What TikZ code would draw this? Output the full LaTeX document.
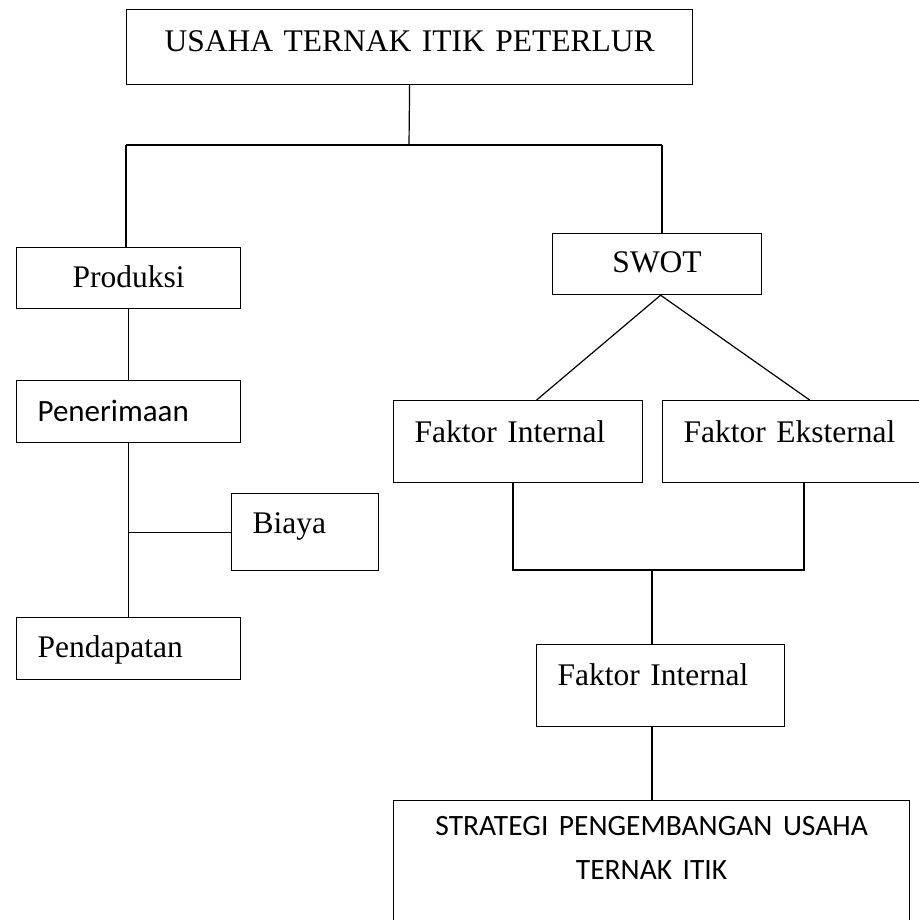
\documentclass[tikz,border=0pt]{standalone}
\usepackage{fontspec}
\setmainfont{Liberation Serif}
\newfontfamily\calibri{Carlito}

\begin{document}
\begin{tikzpicture}[x=1pt,y=-1pt,line width=1.2pt,
  box/.style={draw,anchor=north west,inner ysep=0pt,inner xsep=21pt,align=left,
    font=\fontsize{31.5}{38}\selectfont},
  midbox/.style={box,inner xsep=0pt,align=center}]

\useasboundingbox (0,0) rectangle (918,920);

% boxes
\node[midbox,text width=566pt,text height=42pt,text depth=33pt] (usaha) at (126,9) {USAHA TERNAK ITIK PETERLUR};

\node[midbox,text width=224pt,text height=40pt,text depth=21pt] (produksi) at (16,247) {Produksi};
\node[box,text width=182pt,text height=41pt,text depth=21pt] (penerimaan) at (16,380) {\calibri\fontsize{31}{38}\selectfont Penerimaan};
\node[box,text width=105pt,text height=40pt,text depth=37pt] (biaya) at (231,493) {Biaya};
\node[box,text width=182pt,text height=40pt,text depth=22pt] (pendapatan) at (16,617) {Pendapatan};

\node[midbox,text width=209pt,text height=39pt,text depth=22pt] (swot) at (552,233) {SWOT};
\node[box,text width=207pt,text height=42pt,text depth=40pt] (internal) at (393,400) {Faktor Internal};
\node[box,text width=224pt,text height=42pt,text depth=40pt] (eksternal) at (662,400) {Faktor Eksternal};
\node[box,text width=206pt,text height=41pt,text depth=41pt] (internal2) at (536,644) {Faktor Internal};
\node[midbox,text width=516pt,text height=35pt,text depth=90pt] (strategi) at (393,800)
  {\calibri\fontsize{29.5}{36}\selectfont STRATEGI PENGEMBANGAN USAHA\\[6pt]TERNAK ITIK};

% junctions
\coordinate (jl) at (126,145);
\coordinate (jm) at (409,145);
\coordinate (jr) at (662,145);
\coordinate (bl) at (513,570);
\coordinate (bm) at (652,570);
\coordinate (br) at (804,570);

% top branch
\draw (usaha.south) -- (jm);
\draw (jl) -- (jr);
\draw (jl) -- (jl |- produksi.north);
\draw (jr) -- (jr |- swot.north);

% left column
\draw (produksi.south) -- (penerimaan.north);
\draw (penerimaan.south) -- (pendapatan.north);
\draw (biaya.west) -- (biaya.west -| penerimaan.south);

% swot split
\draw ([xshift=18.5pt]internal.north) -- ([xshift=3.5pt]swot.south) -- ([xshift=14pt]eksternal.north);

% bracket
\draw (bl |- internal.south) -- (bl) -- (br) -- (br |- eksternal.south);
\draw (bm) -- (bm |- internal2.north);
\draw (bm |- internal2.south) -- (bm |- strategi.north);

\end{tikzpicture}
\end{document}
